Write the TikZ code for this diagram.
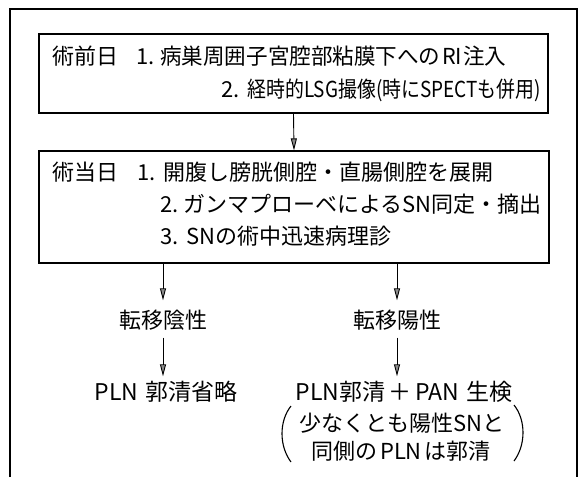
\documentclass[tikz,border=0pt]{standalone}
\usepackage{fontspec}
\setmainfont{Noto Sans CJK JP}
\usetikzlibrary{arrows.meta}
\begin{document}
\begin{tikzpicture}[x=1pt,y=-1pt,
  box/.style={draw, line width=1.2pt, rectangle, inner sep=0pt},
  txt/.style={font=\fontsize{22}{24}\selectfont, inner sep=0pt, text height=18pt, text depth=3pt},
  bigtxt/.style={txt, font=\fontsize{23}{25}\selectfont},
  arr/.style={line width=0.9pt, -{Triangle[length=12pt,width=6pt,fill=black!45]}},
  paren/.style={line width=1.1pt}]
\useasboundingbox (0,0) rectangle (584,477);
% outer frame (open at the bottom)
\draw[line width=1.2pt] (10,477) -- (10,9) -- (577,9) -- (577,477);
% boxes
\node[box, minimum width=509pt, minimum height=79pt] (b1) at (293.5,73.5) {};
\node[box, minimum width=510pt, minimum height=112pt] (b2) at (294,207) {};
% box 1 text
\node[txt, anchor=west] (b1h) at (52,57) {術前日};
\node[txt, anchor=west] (b1n1) at (136,57) {1.};
\node[txt, anchor=west] (b1l1) at (160,57) {\scalebox{0.98}[1]{病巣周囲子宮腔部粘膜下への\hspace{0.08em}RI\hspace{0.05em}注入}};
\node[txt, anchor=west] (b1n2) at (221,90) {2.};
\node[txt, anchor=east] (b1l2) at (541,90) {\scalebox{0.86}[1]{経時的LSG撮像(時にSPECTも併用)}};
% box 2 text
\node[txt, anchor=west] (b2h) at (52,173) {術当日};
\node[txt, anchor=west] (b2n1) at (137,173) {1.};
\node[txt, anchor=west] (b2l1) at (163,173) {開腹し膀胱側腔・直腸側腔を展開};
\node[txt, anchor=west] (b2n2) at (160,205) {2.};
\node[txt, anchor=east] (b2l2) at (542,205) {ガンマプローベによるSN同定・摘出};
\node[txt, anchor=west] (b2n3) at (160,237) {3.};
\node[txt, anchor=west] (b2l3) at (186,237) {SNの術中迅速病理診};
% results
\node[txt] (neg) at (163,321) {転移陰性};
\node[txt] (pos) at (397,321) {転移陽性};
\node[bigtxt] (negr) at (166,393) {PLN\hspace{0.3em}郭清省略};
\node[bigtxt] (posr) at (404,393) {PLN郭清\hspace{0.15em}＋\hspace{0.15em}PAN\hspace{0.3em}生検};
\node[txt] (posr2) at (402,424) {少なくとも陽性SNと};
\node[txt] (posr3) at (401,452) {同側の\hspace{0.1em}PLN\hspace{0.1em}は郭清};
% parentheses
\draw[paren] (291,406) .. controls (279,421) and (279,446) .. (291,462);
\draw[paren] (514,405) .. controls (526,420) and (526,445) .. (514,461);
% arrows
\draw[arr] (b1.south) -- (b2.north);
\draw[arr, shorten >=10pt] (b2.south -| neg.north) -- (neg.north);
\draw[arr, shorten >=10pt] (b2.south -| pos.north) -- (pos.north);
\draw[arr, shorten <=6pt, shorten >=6pt] (neg.south) -- (neg.south |- negr.north);
\draw[arr, shorten <=6pt, shorten >=6pt] (pos.south) -- (pos.south |- posr.north);
\end{tikzpicture}
\end{document}
